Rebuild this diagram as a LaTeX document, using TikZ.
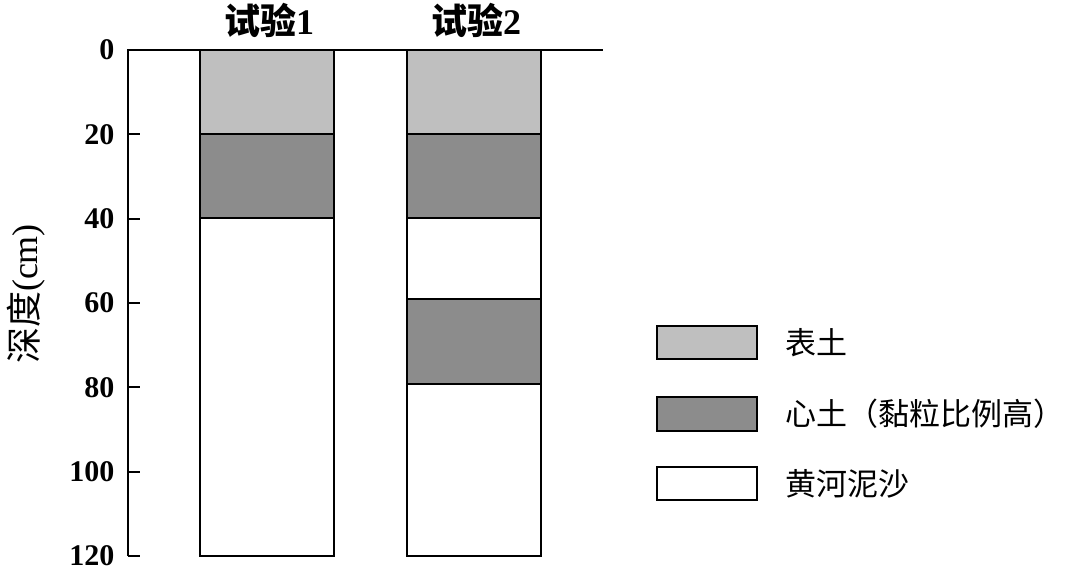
\documentclass[tikz,border=0pt]{standalone}
\usepackage{fontspec}
\setmainfont{Liberation Serif}
\newfontfamily\cjk{Noto Sans CJK SC}
\begin{document}
\begin{tikzpicture}[x=1pt,y=-1pt,
  lay/.style={draw=black,line width=2pt},
  tk/.style={font=\fontsize{30}{30}\selectfont\bfseries,anchor=east},
  lg/.style={font=\cjk\fontsize{31}{31}\selectfont,anchor=west}]
\useasboundingbox (0,0) rectangle (1080,579);
\definecolor{top}{gray}{0.75}\definecolor{mid}{gray}{0.55}
% columns
\fill[top] (200,50) rectangle (334,134);
\fill[mid] (200,134) rectangle (334,218);
\draw[lay] (200,50) rectangle (334,556);
\draw[lay] (200,134) -- (334,134) (200,218) -- (334,218);
\fill[top] (407,50) rectangle (541,134);
\fill[mid] (407,134) rectangle (541,218);
\fill[mid] (407,299) rectangle (541,384);
\draw[lay] (407,50) rectangle (541,556);
\draw[lay] (407,134) -- (541,134) (407,218) -- (541,218) (407,299) -- (541,299) (407,384) -- (541,384);
% axis
\draw[line width=2pt] (128,556) -- (128,50) -- (603,50);
\foreach \v [count=\i from 0] in {0,20,40,60,80,100,120}{
  \pgfmathsetmacro\yy{50+\i*84.33}
  \draw[line width=2pt] (128,\yy) -- (140,\yy);
  \node[tk] (t\i) at (118,\yy) {\v};
}
\node[font=\fontsize{36}{36}\selectfont,rotate=90] (yl) at (26,294) {\cjk 深度\rmfamily(cm)};
\node[font=\fontsize{36}{36}\selectfont\bfseries] (c1) at (269,20) {\cjk\bfseries 试验\rmfamily 1};
\node[font=\fontsize{36}{36}\selectfont\bfseries] (c2) at (476,20) {\cjk\bfseries 试验\rmfamily 2};
% legend
\draw[lay,fill=top] (657,326) rectangle (757,359);
\draw[lay,fill=mid] (657,397) rectangle (757,431);
\draw[lay,fill=white] (657,467) rectangle (757,500);
\node[lg] (l1) at (782,343) {表土};
\node[lg] (l2) at (782,414) {心土（黏粒比例高）};
\node[lg] (l3) at (782,484) {黄河泥沙};
\end{tikzpicture}
\end{document}
